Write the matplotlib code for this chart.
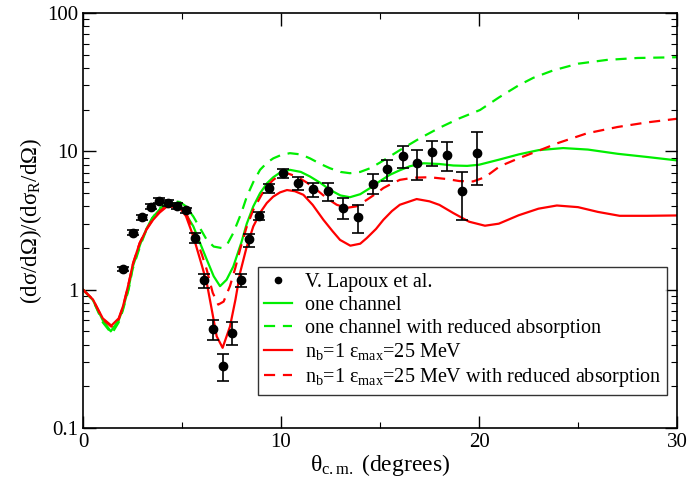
import numpy as np
import matplotlib
matplotlib.use("Agg")
import matplotlib.pyplot as plt
from matplotlib.lines import Line2D

plt.rcParams["font.family"] = ["Liberation Serif", "DejaVu Serif"]
plt.rcParams["mathtext.fontset"] = "custom"
plt.rcParams["mathtext.rm"] = "Liberation Serif"
plt.rcParams["mathtext.it"] = "Liberation Serif:italic"

# experimental data (V. Lapoux et al.)
exp_theta = [2.03, 2.51, 2.96, 3.42, 3.86, 4.31, 4.77, 5.20, 5.67, 6.13, 6.58, 7.05,
             7.53, 7.96, 8.40, 8.87, 9.39, 10.09, 10.85, 11.60, 12.37, 13.11, 13.87,
             14.63, 15.37, 16.15, 16.88, 17.64, 18.40, 19.14, 19.92]
exp_y = [1.42, 2.58, 3.33, 3.99, 4.39, 4.23, 4.04, 3.74, 2.35, 1.17, 0.52, 0.28,
         0.49, 1.17, 2.32, 3.42, 5.45, 6.92, 5.87, 5.33, 5.13, 3.90, 3.35,
         5.83, 7.44, 9.28, 8.30, 9.87, 9.43, 5.19, 9.80]
exp_lo = [1.37, 2.48, 3.20, 3.83, 4.21, 4.04, 3.86, 3.56, 2.17, 1.03, 0.435, 0.22,
          0.40, 1.04, 2.05, 3.17, 5.04, 6.40, 5.28, 4.70, 4.37, 3.24, 2.59,
          4.90, 6.12, 7.55, 6.20, 7.80, 7.26, 3.20, 5.74]
exp_hi = [1.47, 2.68, 3.46, 4.15, 4.57, 4.42, 4.22, 3.92, 2.56, 1.30, 0.60, 0.34,
          0.58, 1.30, 2.54, 3.67, 5.83, 7.40, 6.52, 5.92, 5.89, 4.57, 4.11,
          6.86, 8.68, 10.9, 10.2, 11.8, 11.6, 7.07, 13.7]

# one channel
gs_theta = [0, 0.5, 1.0, 1.4, 1.8, 2.0, 2.3, 2.5, 2.9, 3.2, 3.5, 3.9, 4.3, 4.7, 5.0,
            5.57, 6.25, 6.6, 6.92, 7.25, 7.59, 8.0, 8.27, 8.6, 8.94, 9.3, 9.61, 10.0,
            10.45, 11.0, 11.46, 12.0, 12.47, 13.0, 13.48, 14.0, 14.5, 15.0, 15.5, 16.0,
            16.5, 17.2, 18.0, 18.7, 19.4, 20.0, 21.0, 22.0, 23.0, 24.25, 25.5, 27.0,
            28.5, 30.0]
gs_y = [1.0, 0.84, 0.60, 0.50, 0.60, 0.72, 1.02, 1.45, 2.15, 2.75, 3.3, 3.85, 4.25,
        4.2, 3.9, 2.87, 1.65, 1.25, 1.06, 1.18, 1.47, 2.2, 3.0, 4.0, 4.98, 5.9, 6.5,
        7.1, 7.35, 7.1, 6.58, 5.9, 5.27, 4.8, 4.66, 4.9, 5.43, 6.1, 6.77, 7.3, 7.8,
        8.2, 8.1, 7.9, 7.85, 8.0, 8.7, 9.5, 10.2, 10.56, 10.3, 9.6, 9.1, 8.6]

# one channel with reduced absorption
gd_theta = [0, 0.5, 1.0, 1.45, 1.8, 2.0, 2.3, 2.5, 2.9, 3.2, 3.5, 3.9, 4.48, 4.9, 5.2,
            5.57, 6.25, 6.6, 7.0, 7.3, 7.59, 8.0, 8.27, 8.6, 8.94, 9.3, 9.61, 10.0,
            10.45, 11.0, 11.46, 12.0, 12.47, 13.0, 13.48, 14.0, 14.5, 15.0, 15.5, 16.0,
            17.0, 18.0, 19.0, 20.05, 21.0, 22.0, 22.74, 23.75, 25.0, 26.45, 28.0, 30.0]
gd_y = [1.0, 0.84, 0.58, 0.48, 0.58, 0.70, 1.0, 1.4, 2.1, 2.7, 3.3, 3.9, 4.38, 4.3,
        4.0, 3.38, 2.29, 2.05, 2.0, 2.15, 2.57, 3.6, 4.7, 6.0, 7.35, 8.3, 8.9, 9.4,
        9.7, 9.5, 8.9, 8.1, 7.55, 7.1, 6.95, 7.1, 7.55, 8.3, 9.2, 10.2, 12.4, 14.8,
        17.3, 19.9, 24.5, 30.0, 34.0, 38.5, 43.0, 45.8, 47.3, 47.9]

# n_b=1 eps_max=25 MeV
rs_theta = [0, 0.5, 1.0, 1.43, 1.8, 2.02, 2.27, 2.53, 2.86, 3.2, 3.54, 3.87, 4.2, 4.5,
            4.9, 5.2, 5.57, 6.0, 6.25, 6.5, 6.75, 7.05, 7.42, 7.7, 7.93, 8.25, 8.6,
            9.0, 9.28, 9.6, 9.95, 10.3, 10.7, 11.13, 11.6, 12.14, 12.6, 12.98, 13.5,
            14.0, 14.33, 14.8, 15.17, 15.6, 16.0, 16.85, 17.5, 18.0, 18.7, 19.5, 20.3,
            21.0, 22.0, 23.0, 23.93, 25.0, 26.0, 27.1, 28.5, 30.0]
rs_y = [1.0, 0.85, 0.62, 0.55, 0.62, 0.76, 1.06, 1.56, 2.17, 2.71, 3.2, 3.61, 3.95,
        3.98, 3.88, 3.4, 2.43, 1.5, 1.12, 0.72, 0.46, 0.38, 0.54, 0.85, 1.32, 2.0,
        2.87, 3.7, 4.23, 4.7, 5.05, 5.25, 5.15, 4.85, 4.1, 3.2, 2.65, 2.29, 2.08,
        2.15, 2.36, 2.75, 3.2, 3.7, 4.11, 4.52, 4.35, 4.1, 3.58, 3.1, 2.9, 3.0, 3.45,
        3.85, 4.06, 3.95, 3.65, 3.42, 3.42, 3.44]

# n_b=1 eps_max=25 MeV with reduced absorption
rd_theta = [0, 0.5, 1.0, 1.43, 1.8, 2.02, 2.27, 2.53, 2.86, 3.2, 3.54, 3.87, 4.25, 4.6,
            4.9, 5.2, 5.57, 6.0, 6.25, 6.55, 6.83, 7.1, 7.42, 7.7, 7.93, 8.25, 8.6,
            9.0, 9.28, 9.6, 9.95, 10.3, 10.79, 11.3, 11.8, 12.3, 12.81, 13.3, 13.8,
            14.33, 14.8, 15.17, 15.6, 16.0, 16.7, 17.5, 18.4, 19.0, 19.7, 20.3, 21.05,
            22.0, 22.9, 24.0, 25.45, 27.0, 28.5, 30.0]
rd_y = [1.0, 0.85, 0.61, 0.54, 0.61, 0.75, 1.05, 1.55, 2.17, 2.73, 3.25, 3.68, 4.08,
        4.1, 4.0, 3.6, 2.64, 1.8, 1.39, 0.95, 0.78, 0.82, 1.06, 1.45, 1.95, 2.8, 3.78,
        4.8, 5.57, 6.2, 6.77, 6.95, 6.58, 5.95, 5.27, 4.6, 4.11, 3.9, 4.0, 4.46, 4.95,
        5.43, 5.85, 6.22, 6.45, 6.5, 6.3, 6.1, 6.06, 6.5, 7.8, 8.9, 9.97, 11.5, 13.5,
        15.0, 16.2, 17.2]

labels = ["V. Lapoux et al.",
          "one channel",
          "one channel with reduced absorption",
          r"n$_\mathrm{b}$=1 ε$_\mathrm{max}$=25 MeV",
          r"n$_\mathrm{b}$=1 ε$_\mathrm{max}$=25 MeV with reduced absorption"]

fig = plt.figure(figsize=(7, 4.8), dpi=100)
ax = fig.add_axes([0.1186, 0.1083, 0.8486, 0.8646])

y = np.array(exp_y)
yerr = [y - np.array(exp_lo), np.array(exp_hi) - y]
ax.errorbar(exp_theta, exp_y, yerr=yerr, fmt="o", color="black", ms=6,
            ecolor="black", elinewidth=1.2, capsize=4, capthick=1.2, zorder=5)
l1, = ax.plot(gs_theta, gs_y, color="#00ee00", lw=1.6)
l2, = ax.plot(gd_theta, gd_y, color="#00ee00", lw=1.6, ls=(0, (5, 3.5)))
l3, = ax.plot(rs_theta, rs_y, color="#ff0000", lw=1.6)
l4, = ax.plot(rd_theta, rd_y, color="#ff0000", lw=1.6, ls=(0, (5, 3.5)))
dot = Line2D([], [], ls="none", marker="o", color="black", ms=4.5)

ax.set_yscale("log")
ax.set_xlim(0, 30)
ax.set_ylim(0.1, 100)
ax.set_xticks([0, 10, 20, 30])
ax.set_xticks([5, 15, 25], minor=True)
ax.set_yticks([0.1, 1, 10, 100])
ax.set_yticklabels(["0.1", "1", "10", "100"])
ax.tick_params(which="both", direction="in", top=True, right=True, labelsize=15)
ax.tick_params(which="major", length=9, width=1)
ax.tick_params(which="minor", length=4.5, width=0.8)
for s in ax.spines.values():
    s.set_linewidth(1.2)

ax.set_xlabel(r"θ$_\mathrm{c.m.}$ (degrees)", fontsize=17, labelpad=0)
ax.set_ylabel(r"(dσ/dΩ)/(dσ$_\mathrm{R}$/dΩ)", fontsize=16.5, labelpad=2)

leg = ax.legend([dot, l1, l2, l3, l4], labels,
                loc="upper left", bbox_to_anchor=(0.295, 0.388), borderaxespad=0,
                fontsize=14.5, frameon=True, fancybox=False, edgecolor="black",
                handlelength=1.4, handletextpad=0.6, labelspacing=0.18,
                borderpad=0.3)
leg.get_frame().set_linewidth(1.0)

fig.savefig("out.png", dpi=100)
